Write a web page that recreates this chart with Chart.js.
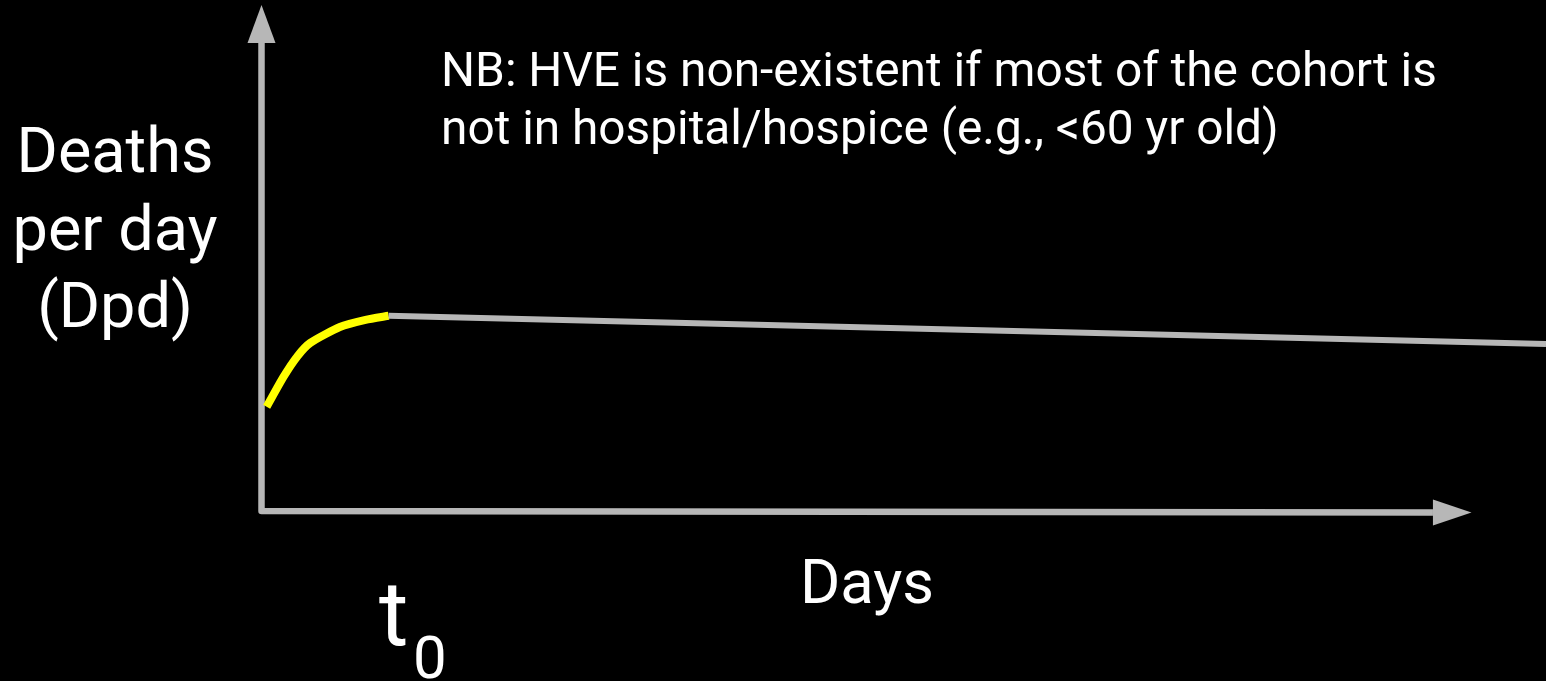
<!DOCTYPE html>
<html>
<head>
<meta charset="utf-8">
<title>Deaths per day</title>
<script src="https://cdn.jsdelivr.net/npm/chart.js@4.4.1/dist/chart.umd.min.js"></script>
<style>
    html, body { margin: 0; padding: 0; background: #000; overflow: hidden; }
    canvas { display: block; }
</style>
</head>
<body>
<canvas id="hveChart" width="1546" height="681"></canvas>
<script>
// Data (x = days since t0, y = deaths per day, arbitrary units)
const earlyDays = [0.4, 1.7, 2.8, 3.8, 6.1, 8.1, 9.9];
const earlyDpd = [20.4, 26.2, 30.3, 32.9, 36.0, 37.4, 38.2];
const laterDays = [9.9, 100];
const laterDpd = [38.2, 32.7];

const yLabelLines = ['Deaths', 'per day', '(Dpd)'];
const xLabel = 'Days';
const noteLines = [
    'NB: HVE is non-existent if most of the cohort is',
    'not in hospital/hospice (e.g., <60 yr old)'
];
const startLabel = 't';
const startSub = '0';

const GRAY = '#b7b7b7';
const YELLOW = '#ffff00';
const FONT = 'Roboto, "Noto Sans", sans-serif';

const toPoints = (xs, ys) => xs.map((x, i) => ({ x: x, y: ys[i] }));

// axes with arrow heads + annotation text
const sketchPlugin = {
    id: 'sketch',
    beforeDatasetsDraw(chart) {
        const ctx = chart.ctx;
        const xs = chart.scales.x;
        const ys = chart.scales.y;
        const x0 = xs.getPixelForValue(0);
        const y0 = ys.getPixelForValue(0);
        const yTop = ys.getPixelForValue(91.6);
        const yTip = ys.getPixelForValue(99);
        const xEnd = xs.getPixelForValue(91.2);
        const xTip = xs.getPixelForValue(94.2);

        ctx.save();
        ctx.strokeStyle = GRAY;
        ctx.fillStyle = GRAY;
        ctx.lineWidth = 6.5;
        ctx.lineJoin = 'round';
        ctx.beginPath();
        ctx.moveTo(x0, yTop);
        ctx.lineTo(x0, y0);
        ctx.lineTo(xEnd, y0 + 1.5);
        ctx.stroke();

        // y arrow
        ctx.beginPath();
        ctx.moveTo(x0 - 14, yTop);
        ctx.lineTo(x0, yTip);
        ctx.lineTo(x0 + 14, yTop);
        ctx.closePath();
        ctx.fill();

        // x arrow
        ctx.beginPath();
        ctx.moveTo(xEnd, y0 - 11.5);
        ctx.lineTo(xTip, y0 + 1.5);
        ctx.lineTo(xEnd, y0 + 14.5);
        ctx.closePath();
        ctx.fill();
        ctx.restore();
    },
    afterDraw(chart) {
        const ctx = chart.ctx;
        ctx.save();
        ctx.fillStyle = '#ffffff';
        ctx.textBaseline = 'alphabetic';

        ctx.font = '63px ' + FONT;
        ctx.textAlign = 'center';
        yLabelLines.forEach((line, i) => ctx.fillText(line, 115, 172 + i * 77.5));

        ctx.font = '61.5px ' + FONT;
        ctx.fillText(xLabel, 867, 603);

        ctx.textAlign = 'left';
        ctx.font = '47.8px ' + FONT;
        noteLines.forEach((line, i) => ctx.fillText(line, 441, 86 + i * 58));

        ctx.font = '90px ' + FONT;
        ctx.fillText(startLabel, 379, 645);
        ctx.font = '60px ' + FONT;
        ctx.fillText(startSub, 413, 678);
        ctx.restore();
    }
};

new Chart(document.getElementById('hveChart').getContext('2d'), {
    type: 'line',
    data: {
        datasets: [
            {
                label: 'Later',
                data: toPoints(laterDays, laterDpd),
                borderColor: GRAY,
                borderWidth: 6,
                pointRadius: 0,
                fill: false
            },
            {
                label: 'Early',
                data: toPoints(earlyDays, earlyDpd),
                borderColor: YELLOW,
                borderWidth: 8,
                borderCapStyle: 'butt',
                tension: 0.2,
                pointRadius: 0,
                fill: false
            }
        ]
    },
    options: {
        responsive: false,
        animation: false,
        events: [],
        layout: {
            padding: { left: 261.5, right: 0, top: 0, bottom: 170 }
        },
        plugins: {
            legend: { display: false },
            tooltip: { enabled: false }
        },
        scales: {
            x: { type: 'linear', min: 0, max: 100, display: false },
            y: { type: 'linear', min: 0, max: 100, display: false }
        }
    },
    plugins: [sketchPlugin]
});
</script>
</body>
</html>
